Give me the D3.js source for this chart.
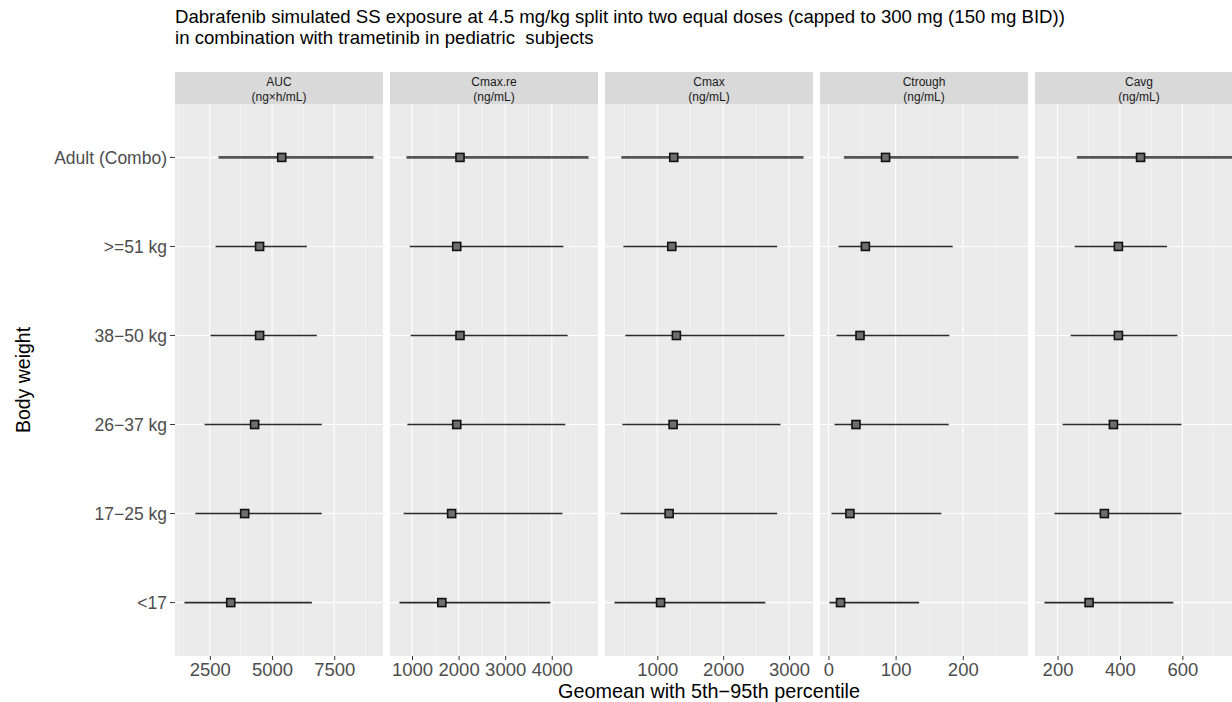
<!DOCTYPE html>
<html>
<head>
<meta charset="utf-8">
<script src="https://cdn.jsdelivr.net/npm/d3@7"></script>
<style>
  html, body { margin: 0; padding: 0; background: #ffffff; }
  svg { display: block; font-family: "Liberation Sans", Arial, sans-serif; }
</style>
</head>
<body>
<svg id="chart" width="1232" height="702"></svg>
<script>
// Body-weight groups, bottom to top
const bodyWeight = ["<17", "17\u221225 kg", "26\u221237 kg", "38\u221250 kg", ">=51 kg", "Adult (Combo)"];

// Facet labels
const metricNames = ["AUC", "Cmax.re", "Cmax", "Ctrough", "Cavg"];
const metricUnits = ["(ng\u00d7h/mL)", "(ng/mL)", "(ng/mL)", "(ng/mL)", "(ng/mL)"];

// Geomean and 5th / 95th percentiles, in bodyWeight order
const aucGeomean = [3340, 3900, 4300, 4500, 4500, 5390];
const aucP05     = [1480, 1920, 2290, 2530, 2730, 2850];
const aucP95     = [6600, 7000, 7000, 6800, 6400, 9080];

const cmaxreGeomean = [1640, 1850, 1960, 2030, 1960, 2030];
const cmaxreP05     = [730, 820, 900, 970, 950, 880];
const cmaxreP95     = [3970, 4230, 4290, 4340, 4250, 4790];

const cmaxGeomean = [1050, 1180, 1240, 1290, 1220, 1250];
const cmaxP05     = [350, 440, 470, 515, 485, 455];
const cmaxP95     = [2640, 2820, 2870, 2930, 2820, 3220];

const ctroughGeomean = [18, 32, 41, 47, 55, 85];
const ctroughP05     = [1.5, 4.5, 9, 12, 15, 23];
const ctroughP95     = [135, 168, 179, 180, 185, 283];

const cavgGeomean = [301, 350, 379, 395, 395, 466];
const cavgP05     = [158, 190, 216, 242, 255, 262];
const cavgP95     = [571, 597, 597, 584, 551, 764];

// Axis tick labels per facet
const aucTicks     = [2500, 5000, 7500];
const cmaxreTicks  = [1000, 2000, 3000, 4000];
const cmaxTicks    = [1000, 2000, 3000];
const ctroughTicks = [0, 100, 200];
const cavgTicks    = [200, 400, 600];

const titleLines = [
  "Dabrafenib simulated SS exposure at 4.5 mg/kg split into two equal doses (capped to 300 mg (150 mg BID))",
  "in combination with trametinib in pediatric\u00a0 subjects"
];
const xTitle = "Geomean with 5th\u221295th percentile";
const yTitle = "Body weight";

const geomeans = [aucGeomean, cmaxreGeomean, cmaxGeomean, ctroughGeomean, cavgGeomean];
const lows     = [aucP05, cmaxreP05, cmaxP05, ctroughP05, cavgP05];
const highs    = [aucP95, cmaxreP95, cmaxP95, ctroughP95, cavgP95];
const ticks    = [aucTicks, cmaxreTicks, cmaxTicks, ctroughTicks, cavgTicks];

// Layout
const panelTop = 104, panelBottom = 656, stripTop = 72;
const panelLeft0 = 175, panelW = 208, panelGap = 7;

const svg = d3.select("#chart");

// Title
svg.append("g").selectAll("text").data(titleLines).join("text")
  .attr("x", panelLeft0)
  .attr("y", (d, i) => 23 + i * 20.5)
  .attr("font-size", 18.6)
  .attr("fill", "#000")
  .text(d => d);

// Shared discrete y scale
const y = d3.scalePoint().domain(bodyWeight).range([panelBottom, panelTop]).padding(0.6);

// y axis labels and ticks
const yAxisG = svg.append("g");
yAxisG.selectAll("text").data(bodyWeight).join("text")
  .attr("x", 167)
  .attr("y", d => y(d))
  .attr("dy", "0.36em")
  .attr("text-anchor", "end")
  .attr("font-size", 17.5)
  .attr("fill", "#4D4D4D")
  .text(d => d);
yAxisG.selectAll("line").data(bodyWeight).join("line")
  .attr("x1", 170).attr("x2", panelLeft0)
  .attr("y1", d => y(d)).attr("y2", d => y(d))
  .attr("stroke", "#333").attr("stroke-width", 1);

svg.append("text")
  .attr("transform", `translate(30,${(panelTop + panelBottom) / 2}) rotate(-90)`)
  .attr("text-anchor", "middle")
  .attr("font-size", 19.5)
  .attr("fill", "#000")
  .text(yTitle);

metricNames.forEach((name, k) => {
  const left = panelLeft0 + k * (panelW + panelGap);
  const lo = d3.min(lows[k]), hi = d3.max(highs[k]);
  const pad = (hi - lo) * 0.05;
  const x = d3.scaleLinear().domain([lo - pad, hi + pad]).range([left, left + panelW]);
  const [d0, d1] = x.domain();

  const g = svg.append("g");

  // Strip with two-line label
  g.append("rect")
    .attr("x", left).attr("y", stripTop)
    .attr("width", panelW).attr("height", panelTop - stripTop)
    .attr("fill", "#D9D9D9");
  g.append("text")
    .attr("x", left + panelW / 2).attr("y", 86)
    .attr("text-anchor", "middle").attr("font-size", 12).attr("fill", "#1A1A1A")
    .text(name);
  g.append("text")
    .attr("x", left + panelW / 2).attr("y", 100.5)
    .attr("text-anchor", "middle").attr("font-size", 12).attr("fill", "#1A1A1A")
    .text(metricUnits[k]);

  // Panel background
  g.append("rect")
    .attr("x", left).attr("y", panelTop)
    .attr("width", panelW).attr("height", panelBottom - panelTop)
    .attr("fill", "#EBEBEB");

  // Minor grid: midpoints between major breaks (extended one step either side)
  const t = ticks[k];
  const step = t[1] - t[0];
  const minor = [];
  for (let v = t[0] - step / 2; v <= t[t.length - 1] + step; v += step) minor.push(v);
  g.append("g").selectAll("line").data(minor.filter(v => v > d0 && v < d1)).join("line")
    .attr("x1", d => x(d)).attr("x2", d => x(d))
    .attr("y1", panelTop).attr("y2", panelBottom)
    .attr("stroke", "#F7F7F7").attr("stroke-width", 0.6);

  // Major grid
  g.append("g").selectAll("line").data(t).join("line")
    .attr("x1", d => x(d)).attr("x2", d => x(d))
    .attr("y1", panelTop).attr("y2", panelBottom)
    .attr("stroke", "#FFFFFF").attr("stroke-width", 1.1);
  g.append("g").selectAll("line").data(bodyWeight).join("line")
    .attr("x1", left).attr("x2", left + panelW)
    .attr("y1", d => y(d)).attr("y2", d => y(d))
    .attr("stroke", "#FFFFFF").attr("stroke-width", 1.1);

  // Bottom axis
  const axis = d3.axisBottom(x).tickValues(t).tickSize(4).tickPadding(3).tickFormat(d3.format("d"));
  const ax = g.append("g").attr("transform", `translate(0,${panelBottom})`).call(axis);
  ax.select(".domain").remove();
  ax.selectAll(".tick line").attr("stroke", "#333");
  ax.selectAll(".tick text")
    .attr("font-size", 18.5).attr("fill", "#4D4D4D")
    .attr("font-family", "Liberation Sans, Arial, sans-serif");

  // Interval lines
  const rows = bodyWeight.map((bw, i) => ({ bw, gm: geomeans[k][i], lo: lows[k][i], hi: highs[k][i] }));
  const isRef = d => d.bw === "Adult (Combo)";
  g.append("g").selectAll("line").data(rows).join("line")
    .attr("x1", d => x(d.lo)).attr("x2", d => x(d.hi))
    .attr("y1", d => y(d.bw)).attr("y2", d => y(d.bw))
    .attr("stroke", d => isRef(d) ? "#555" : "#2b2b2b")
    .attr("stroke-width", d => isRef(d) ? 2.6 : 1.6);

  // Geomean markers
  const s = 8;
  g.append("g").selectAll("rect").data(rows).join("rect")
    .attr("x", d => x(d.gm) - s / 2).attr("y", d => y(d.bw) - s / 2)
    .attr("width", s).attr("height", s)
    .attr("fill", "#6E6E6E").attr("stroke", "#111").attr("stroke-width", 1.6);
});

// x axis title
svg.append("text")
  .attr("x", (panelLeft0 + panelLeft0 + 4 * (panelW + panelGap) + panelW) / 2)
  .attr("y", 698)
  .attr("text-anchor", "middle")
  .attr("font-size", 19.8)
  .attr("fill", "#000")
  .text(xTitle);
</script>
</body>
</html>
